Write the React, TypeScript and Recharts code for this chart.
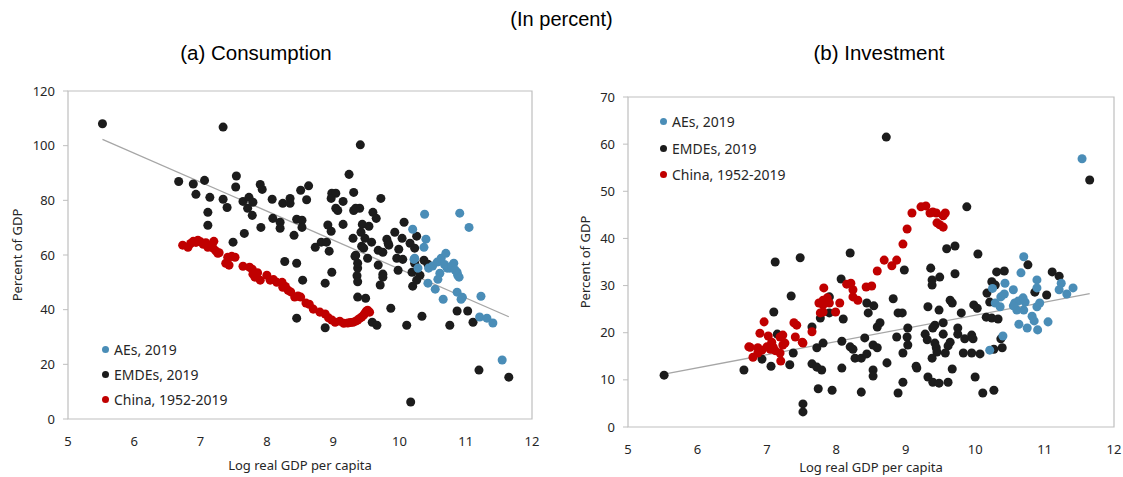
import React from 'react';
import { ScatterChart, Scatter, XAxis, YAxis, ZAxis, ReferenceLine, ReferenceArea, Legend } from 'recharts';

// ---- data: [log real GDP per capita, percent of GDP] ----
const consAEs = [
  [10.2, 69.4], [10.38, 74.9], [10.91, 75.3], [11.05, 70.1], [10.4, 65.8], [10.37, 62.8], [10.22, 58.4], [10.23, 58.8],
  [10.28, 55.2], [10.44, 55.2], [10.57, 57.4], [10.63, 58.8], [10.7, 60.6], [10.61, 53.3], [10.72, 55.2], [10.76, 55.2],
  [10.82, 57], [10.87, 53.7], [10.9, 51.9], [10.58, 51.1], [10.43, 49.7], [10.54, 47.5], [10.87, 46.4], [10.93, 43.8],
  [10.66, 43.8], [10.88, 52.6], [10.68, 56.5], [10.79, 56], [10.84, 54.5], [11.23, 44.9], [11.21, 37.3], [11.32, 36.9],
  [11.41, 35.1], [11.55, 21.6], [10.5, 56], [10.95, 44.5],
];

const consEMDEs = [
  [5.52, 108], [7.34, 106.8], [6.67, 86.9], [6.89, 86], [7.06, 87.3], [6.93, 82.2], [7.14, 81.1], [7.11, 75.6],
  [7.11, 70.9], [7.34, 80.4], [7.4, 77.4], [7.54, 88.9], [7.53, 84.9], [7.66, 67.9], [7.49, 64.7], [7.64, 79.6],
  [7.73, 81.1], [7.79, 79.3], [7.71, 77.1], [7.78, 74.5], [7.9, 85.8], [7.93, 84], [7.91, 70.1], [8.08, 80.4],
  [8.09, 73.4], [8.2, 72], [8.2, 69.8], [8.24, 78.9], [8.35, 80.7], [8.35, 78.9], [8.41, 67.2], [8.45, 73.1],
  [8.51, 83.7], [8.53, 72.7], [8.53, 70.1], [8.6, 80.2], [8.63, 85.3], [8.27, 57.6], [8.45, 57], [8.54, 50.8],
  [8.45, 36.9], [8.88, 33.4], [9.41, 100.3], [9.24, 89.5], [8.98, 82.6], [9.04, 82.6], [8.97, 80.7], [9.15, 79.6],
  [9.31, 82.9], [9.04, 77.1], [9.07, 76.3], [9.31, 76.3], [9.4, 77.1], [9.72, 80.7], [9.6, 75.6], [9.65, 73.4],
  [9.15, 71.2], [8.92, 71], [8.97, 68.7], [9.44, 71.2], [9.54, 70.5], [10.07, 72], [9.3, 66.1], [9.42, 68.3],
  [9.48, 66.1], [9.58, 64.7], [9.81, 65.8], [9.93, 68.3], [10.04, 66.1], [10.16, 64.3], [10.26, 66.9], [10.23, 62.5],
  [8.73, 62.8], [8.82, 64.7], [8.9, 64.7], [8.94, 61.4], [9.43, 63.2], [9.46, 62.5], [9.68, 61.7], [9.75, 61],
  [9.83, 64.3], [9.99, 62.1], [9.33, 59.5], [9.52, 58.8], [9.96, 58.8], [10.05, 58.4], [10.37, 58.1], [9.34, 77.1],
  [9.84, 63.6], [10.23, 57], [10.43, 56.6], [9.68, 56.3], [9.37, 55.2], [9.36, 52.4], [9.37, 50.2], [9.75, 53],
  [9.75, 51.9], [9.71, 49], [9.98, 54.4], [10.19, 53.7], [10.31, 52.6], [10.26, 50.8], [10.2, 48.6], [8.98, 53.7],
  [8.88, 49.7], [9.37, 44.6], [9.49, 44.2], [9.87, 40.5], [10.34, 37.6], [10.11, 34.3], [10.76, 34.3], [10.87, 39.5],
  [11.03, 39.5], [11.11, 35.4], [9.59, 35.4], [9.66, 34.3], [11.2, 17.9], [11.65, 15.3], [10.17, 6.2], [9.34, 59.9],
  [9.37, 57],
];

const consChina = [
  [6.73, 63.6], [6.81, 62.8], [6.85, 64.2], [6.89, 65], [6.93, 64.6], [6.96, 65.4], [7.0, 64.8], [7.04, 63.9],
  [7.08, 64.5], [7.11, 62.8], [7.15, 63.5], [7.19, 62.5], [7.2, 65], [7.23, 61.5], [7.26, 60.6], [7.28, 60.8],
  [7.38, 57], [7.41, 59.2], [7.43, 56.3], [7.47, 59.5], [7.52, 59.2], [7.64, 55.9], [7.74, 55.5], [7.78, 54.8],
  [7.79, 53], [7.82, 51.9], [7.86, 53.5], [7.9, 50.8], [8.0, 52.6], [8.05, 50.8], [8.1, 51], [8.15, 50],
  [8.23, 50], [8.24, 48.2], [8.28, 48.5], [8.32, 47.1], [8.36, 46.5], [8.42, 44.6], [8.47, 45], [8.51, 44.6],
  [8.59, 42.4], [8.64, 42], [8.7, 40.2], [8.8, 39.1], [8.88, 38.4], [8.93, 37], [8.98, 36.2], [9.03, 35.4],
  [9.1, 35.8], [9.16, 35], [9.22, 35.1], [9.26, 35.3], [9.3, 35.4], [9.34, 35.8], [9.37, 36.2], [9.4, 36.8],
  [9.43, 37.3], [9.46, 38], [9.48, 38.7], [9.5, 39.4], [9.52, 39.8], [9.55, 39.1],
];

const invAEs = [
  [10.7, 36.1], [10.66, 32.7], [10.89, 31.2], [11.24, 30.5], [11.21, 29.1], [11.32, 28.2], [11.41, 29.5], [10.43, 30.5],
  [10.55, 29.1], [10.42, 28.2], [10.37, 27.6], [10.29, 26.3], [10.36, 25.5], [10.57, 26.3], [10.62, 26.7], [10.69, 27.4],
  [10.72, 26.5], [10.6, 24.8], [10.7, 24.8], [10.55, 25.7], [10.89, 29.5], [10.89, 25.5], [10.93, 26.3], [10.82, 23.5],
  [10.85, 22.5], [10.63, 21.8], [10.75, 21], [10.9, 20.6], [11.05, 22.3], [10.4, 19.3], [10.21, 16.3], [10.25, 29.4],
  [11.54, 56.9],
];

const invEMDEs = [
  [5.52, 11], [6.67, 12.1], [6.93, 14.4], [7.06, 12.9], [7.1, 24.4], [7.15, 19.7], [7.12, 35], [7.48, 35.9],
  [7.35, 27.8], [7.38, 15.7], [7.33, 13.2], [7.52, 4.9], [7.52, 3.2], [7.65, 13.4], [7.72, 12.7], [7.79, 12.1],
  [7.74, 8.1], [7.94, 7.8], [7.65, 21.2], [7.72, 16.8], [7.81, 17.8], [7.77, 23.1], [7.9, 24.2], [7.9, 27.6],
  [8.07, 31.4], [8.2, 36.9], [8.1, 22.9], [8.08, 18.2], [8.08, 12.5], [8.2, 17], [8.24, 16.5], [8.27, 14.6],
  [8.36, 14.6], [8.36, 7.4], [8.44, 26.3], [8.46, 24.2], [8.44, 15.5], [8.41, 18.9], [8.54, 25.7], [8.59, 21.2],
  [8.63, 22.1], [8.53, 17.4], [8.59, 16.8], [8.73, 13.6], [8.53, 12.1], [8.53, 10.8], [8.82, 27.2], [8.89, 24.2],
  [8.95, 24.2], [8.87, 19.1], [8.96, 15.7], [8.96, 9.5], [8.89, 7.2], [8.98, 33.3], [9.02, 19.1], [9.03, 17.4],
  [8.72, 61.5], [9.88, 46.7], [9.59, 37.8], [9.71, 38.4], [10.04, 36.7], [9.36, 33.7], [9.49, 31.8], [9.71, 32.5],
  [9.38, 31.2], [9.38, 30.1], [10.31, 32.9], [10.42, 33.1], [10.76, 34.4], [11.11, 32.9], [11.21, 32], [11.65, 52.4],
  [10.24, 30.8], [10.29, 30.1], [10.17, 28.4], [10.21, 26.5], [10.86, 28.6], [11.03, 28], [9.64, 26.9], [9.67, 26.3],
  [9.98, 25.9], [10.03, 25.2], [9.32, 25.5], [9.48, 24.8], [9.8, 24.2], [10.16, 23.3], [10.24, 23.1], [10.33, 22.9],
  [9.03, 21], [9.42, 21.6], [9.54, 22.1], [9.39, 21], [9.54, 19.7], [9.75, 21], [9.75, 19.7], [9.95, 19.5],
  [9.28, 19.7], [9.31, 18.5], [9.42, 17.8], [9.44, 16.8], [9.64, 18], [9.61, 17.2], [9.85, 18.7], [9.97, 18.7],
  [9.45, 15.9], [9.57, 15.7], [9.83, 15.7], [9.95, 15.7], [10.07, 15.5], [9.38, 14.6], [9.15, 12.9], [9.16, 12.5],
  [9.67, 12.3], [9.32, 10.6], [9.39, 9.5], [9.48, 9.3], [9.61, 9.5], [10.0, 10.6], [10.11, 7.2], [10.27, 7.8],
  [10.37, 18.7], [10.39, 16.8], [10.27, 16.5],
];

const invChina = [
  [6.74, 17], [6.76, 16.9], [6.8, 14.8], [6.87, 16.8], [6.87, 15.7], [6.9, 19.9], [6.93, 16.3], [6.96, 22.3],
  [7.0, 17], [7.02, 19.3], [7.05, 16.5], [7.07, 18], [7.09, 17], [7.12, 16.2], [7.19, 19.1], [7.19, 15.7],
  [7.2, 14], [7.23, 19.5], [7.23, 17.4], [7.26, 17.8], [7.39, 22.1], [7.43, 21.6], [7.41, 19.1], [7.51, 18],
  [7.52, 17.8], [7.65, 20.2], [7.75, 26.3], [7.77, 24.2], [7.81, 24.4], [7.81, 25.9], [7.81, 26.9], [7.82, 29.5],
  [7.87, 27.4], [7.9, 26.3], [7.99, 24.4], [8.05, 26.3], [8.15, 30.3], [8.21, 30.5], [8.24, 29.1], [8.24, 27.6],
  [8.31, 26.9], [8.43, 29.7], [8.51, 29.9], [8.59, 33.1], [8.69, 35.4], [8.8, 34.2], [8.87, 35.4], [8.96, 38.8],
  [9.02, 42], [9.09, 45.4], [9.22, 46.7], [9.29, 46.9], [9.35, 45.4], [9.39, 45.6], [9.44, 45.4], [9.45, 43.3],
  [9.49, 42.9], [9.54, 42.4], [9.54, 44.8], [9.57, 45.4],
];

// fitted lines (start, end)
const consTrend = [[5.52, 102.3], [11.65, 37.4]];
const invTrend = [[5.52, 11.2], [11.65, 28.3]];

const xTicks = [5, 6, 7, 8, 9, 10, 11, 12];
const consYTicks = [0, 20, 40, 60, 80, 100, 120];
const invYTicks = [0, 10, 20, 30, 40, 50, 60, 70];

const seriesNames = ['AEs, 2019', 'EMDEs, 2019', 'China, 1952-2019'];

const BLUE = '#4a8db7';
const BLACK = '#1c1c1c';
const RED = '#c00000';
const TXT = '#262626';
const FONT = '"Noto Sans", "Open Sans", sans-serif';
const TITLE_FONT = '"Liberation Sans", Arial, sans-serif';

const toPts = (rows: number[][]) => rows.map(([x, y]) => ({ x, y }));

interface PanelProps {
  left: number;
  width: number;
  margin: { top: number; right: number; bottom: number; left: number };
  yMax: number;
  yTicks: number[];
  aes: number[][];
  emdes: number[][];
  china: number[][];
  trend: number[][];
  legendPos: { left: number; top: number; rowH: number };
  yLabelX: number;
  xLabelY: number;
}

const Panel: React.FC<PanelProps> = ({ left, width, margin, yMax, yTicks, aes, emdes, china, trend, legendPos, yLabelX, xLabelY }) => {
  const colors = [BLUE, BLACK, RED];
  const plotLeft = margin.left + 58;
  const plotRight = width - margin.right;
  const plotMidX = (plotLeft + plotRight) / 2;
  const plotMidY = (margin.top + (477 - margin.bottom - 30)) / 2;

  return (
    <div style={{ position: 'absolute', left, top: 0 }}>
      <ScatterChart width={width} height={477} margin={margin}>
        <ReferenceArea x1={5} x2={12} y1={0} y2={yMax} fill="none" stroke="#bfbfbf" strokeWidth={1.2} ifOverflow="visible" />
        <XAxis
          type="number"
          dataKey="x"
          domain={[5, 12]}
          ticks={xTicks}
          axisLine={false}
          tickLine={false}
          tickSize={6}
          tickMargin={12}
          height={30}
          tick={{ fontSize: 13, fill: TXT, fontFamily: FONT }}
          label={() => (
            <text x={plotMidX} y={xLabelY} textAnchor="middle" dominantBaseline="central" fontSize={13} fill={TXT} fontFamily={FONT}>
              Log real GDP per capita
            </text>
          )}
        />
        <YAxis
          type="number"
          dataKey="y"
          domain={[0, yMax]}
          ticks={yTicks}
          width={58}
          axisLine={false}
          tickLine={{ stroke: '#bfbfbf' }}
          tickSize={5}
          tickMargin={8}
          tick={{ fontSize: 13, fill: TXT, fontFamily: FONT }}
          label={() => (
            <text
              x={yLabelX}
              y={plotMidY}
              transform={`rotate(-90, ${yLabelX}, ${plotMidY})`}
              textAnchor="middle"
              dominantBaseline="central"
              fontSize={13}
              fill={TXT}
              fontFamily={FONT}
            >
              Percent of GDP
            </text>
          )}
        />
        <ZAxis range={[64, 64]} />
        <ReferenceLine
          segment={[{ x: trend[0][0], y: trend[0][1] }, { x: trend[1][0], y: trend[1][1] }]}
          stroke="#a6a6a6"
          strokeWidth={1.3}
          ifOverflow="visible"
        />
        <Scatter name={seriesNames[1]} data={toPts(emdes)} fill={BLACK} isAnimationActive={false} />
        <Scatter name={seriesNames[0]} data={toPts(aes)} fill={BLUE} isAnimationActive={false} />
        <Scatter name={seriesNames[2]} data={toPts(china)} fill={RED} isAnimationActive={false} />
        <Legend
          layout="vertical"
          align="center"
          verticalAlign="middle"
          wrapperStyle={{ left: legendPos.left, top: legendPos.top, width: 200, height: 'auto' }}
          content={() => (
            <div style={{ fontFamily: FONT, fontSize: 14, color: TXT }}>
              {seriesNames.map((n, i) => (
                <div key={n} style={{ display: 'flex', alignItems: 'center', height: legendPos.rowH }}>
                  <span style={{ width: 7, height: 7, borderRadius: '50%', background: colors[i], marginRight: 5, display: 'inline-block' }} />
                  <span>{n}</span>
                </div>
              ))}
            </div>
          )}
        />
      </ScatterChart>
    </div>
  );
};

export default function App() {
  return (
    <div style={{ position: 'absolute', left: 0, top: 0, width: 1123, height: 477, background: '#fff', overflow: 'hidden' }}>
      <div style={{ position: 'absolute', left: 0, width: 1123, top: 8, textAlign: 'center', fontFamily: TITLE_FONT, fontSize: 20, color: '#000' }}>
        (In percent)
      </div>
      <div style={{ position: 'absolute', left: 0, width: 512, top: 41, textAlign: 'center', fontFamily: TITLE_FONT, fontSize: 20.5, color: '#000' }}>
        (a) Consumption
      </div>
      <div style={{ position: 'absolute', left: 640, width: 478, top: 41, textAlign: 'center', fontFamily: TITLE_FONT, fontSize: 20.5, color: '#000' }}>
        (b) Investment
      </div>
      <Panel
        left={0}
        width={560}
        margin={{ top: 91, right: 28, bottom: 28, left: 10 }}
        yMax={120}
        yTicks={consYTicks}
        aes={consAEs}
        emdes={consEMDEs}
        china={consChina}
        trend={consTrend}
        legendPos={{ left: 102, top: 337, rowH: 25 }}
        yLabelX={17}
        xLabelY={465}
      />
      <Panel
        left={560}
        width={563}
        margin={{ top: 97, right: 9, bottom: 20, left: 10 }}
        yMax={70}
        yTicks={invYTicks}
        aes={invAEs}
        emdes={invEMDEs}
        china={invChina}
        trend={invTrend}
        legendPos={{ left: 100, top: 108, rowH: 26.7 }}
        yLabelX={25}
        xLabelY={467}
      />
    </div>
  );
}
